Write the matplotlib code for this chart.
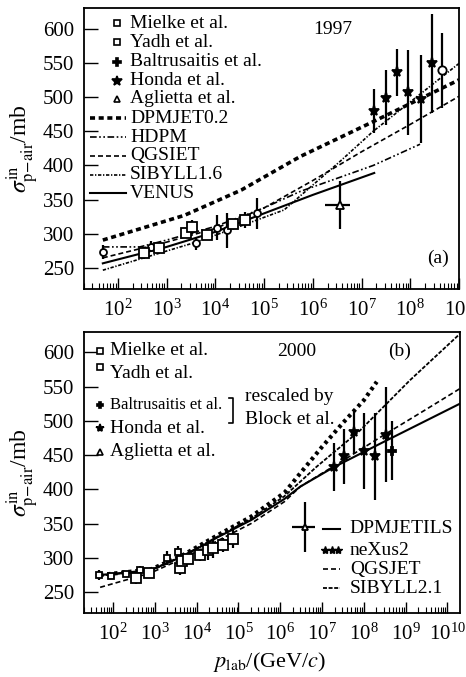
import numpy as np
import matplotlib.pyplot as plt
from matplotlib.ticker import LogLocator, NullFormatter

plt.rcParams['font.family'] = ['Liberation Serif', 'DejaVu Serif']
plt.rcParams['mathtext.fontset'] = 'stix'

# ---------------- panel (a), 1997 ----------------
# x values are log10(p_lab / GeV)
a_dpm_lgp = [1.69, 3.36, 4.53, 5.74, 7.24, 9.0]
a_dpm_sig = [291, 327, 364, 413, 464, 525]
a_hdpm_lgp = [1.69, 2.45, 3.0, 4.0, 5.0, 5.74, 7.24, 8.2]
a_hdpm_sig = [281, 281, 291, 311, 338, 362, 400, 431]
a_qgs_lgp = [1.69, 3.0, 4.0, 5.0, 6.0, 7.0, 8.0, 9.0]
a_qgs_sig = [265, 288, 308, 338, 378, 420, 460, 501]
a_sib_lgp = [1.69, 3.56, 4.5, 5.41, 6.56, 7.24, 9.0]
a_sib_sig = [247, 287, 311, 335, 406, 450, 549]
a_venus_lgp = [1.69, 3.0, 4.0, 5.0, 6.0, 7.26]
a_venus_sig = [257, 281, 303, 330, 357, 389]

a_mielke_lgp = [1.69, 2.67, 3.60, 4.03, 4.23, 4.85]
a_mielke_sig = [274, 281, 286, 309, 305, 330]
a_mielke_err = [10, 8, 10, 18, 25, 23]
a_yadh_lgp = [2.53, 2.85, 3.39, 3.53, 3.82, 4.37, 4.61]
a_yadh_sig = [272, 279, 302, 310, 298, 314, 320]
a_yadh_err = [9, 5, 5, 10, 5, 5, 12]
a_honda_lgp = [7.26, 7.50, 7.72, 7.95, 8.22, 8.45]
a_honda_sig = [479, 499, 536, 507, 497, 549]
a_honda_err = [32, 40, 34, 62, 64, 72]
a_balt_lgp = [8.65]
a_balt_sig = [539]
a_balt_err = [55]
a_agl_lgp = [6.56]
a_agl_sig = [342]
a_agl_err = [35]
a_agl_xlo = [6.25]
a_agl_xhi = [6.77]

# ---------------- panel (b), 2000 ----------------
b_dpm_lgp = [1.69, 2.9, 3.7, 4.5, 5.3, 6.1, 6.48, 7.27, 8.5, 10.3]
b_dpm_sig = [275, 282, 303, 330, 355, 386, 404, 432, 470, 525]
b_nex_lgp = [1.69, 2.9, 3.7, 4.5, 5.3, 6.1, 6.5, 7.0, 7.5, 8.0, 8.31]
b_nex_sig = [275, 283, 305, 333, 360, 395, 425, 462, 497, 530, 557]
b_qgs_lgp = [1.69, 2.9, 3.7, 4.5, 5.3, 6.1, 6.48, 7.5, 8.5, 9.5, 10.3]
b_qgs_sig = [257, 278, 300, 325, 350, 382, 404, 442, 480, 517, 547]
b_sib_lgp = [1.69, 2.9, 3.7, 4.5, 5.3, 6.1, 6.87, 7.91, 9.1, 10.3]
b_sib_sig = [274, 282, 304, 331, 357, 390, 433, 486, 559, 627]

b_mielke_lgp = [1.66, 1.95, 2.3, 2.65, 3.3, 3.55]
b_mielke_sig = [275, 273, 276, 282, 300, 308]
b_mielke_err = [8, 4, 4, 6, 10, 10]
b_yadh_lgp = [2.54, 2.86, 3.60, 3.64, 3.80, 4.08, 4.26, 4.40, 4.62, 4.88]
b_yadh_sig = [270, 278, 285, 296, 299, 304, 311, 314, 319, 328]
b_yadh_err = [8, 5, 10, 5, 5, 8, 14, 14, 10, 14]
b_honda_lgp = [7.29, 7.53, 7.77, 8.01, 8.27, 8.53]
b_honda_sig = [432, 448, 484, 456, 448, 480]
b_honda_err = [35, 40, 33, 56, 64, 70]
b_balt_lgp = [8.68]
b_balt_sig = [456]
b_balt_err = [43]
b_agl_lgp = [6.59]
b_agl_sig = [345]
b_agl_err = [36]
b_agl_xlo = [6.28]
b_agl_xhi = [6.83]

yticks = [250, 300, 350, 400, 450, 500, 550, 600]

ls_dpm_a = dict(lw=2.6, dashes=(1.4, 1.0))
ls_hdpm = dict(lw=1.2, dashes=(4, 1.5, 1, 1.5, 1, 1.5))
ls_qgs = dict(lw=1.2, dashes=(3, 1.8))
ls_sib_a = dict(lw=1.2, dashes=(2, 1, 0.8, 1))
ls_solid = dict(lw=1.5, linestyle='-')
ls_nex = dict(lw=3.0, dashes=(0.8, 0.9))
ls_sib_b = dict(lw=1.3, dashes=(2.2, 0.9))


def p(lgp):
    return 10 ** np.array(lgp, dtype=float)


def style_axis(ax, xmax):
    ax.set_xscale('log')
    ax.set_xlim(20, xmax)
    ax.set_ylim(220, 630)
    ax.set_yticks(yticks)
    ax.xaxis.set_major_locator(LogLocator(base=10, numticks=20))
    ax.xaxis.set_minor_locator(LogLocator(base=10, subs=np.arange(2, 10), numticks=20))
    ax.xaxis.set_minor_formatter(NullFormatter())
    ax.tick_params(which='both', direction='in', top=False, right=False)
    ax.tick_params(axis='y', length=10, width=1, labelsize=15, pad=7)
    ax.tick_params(axis='x', which='major', length=8, width=1, labelsize=15, pad=8)
    ax.tick_params(axis='x', which='minor', length=4, width=0.8)
    for s in ax.spines.values():
        s.set_linewidth(1.3)
    ax.set_ylabel(r'$\sigma^{\mathrm{in}}_{\mathrm{p}\!-\!\mathrm{air}}$/mb', fontsize=17)
    ax.yaxis.set_label_coords(-0.115, 0.5)


def data_points(ax, lgp, sig, err, marker, ms, filled=False, xerr=None):
    ax.errorbar(p(lgp), sig, yerr=err, xerr=xerr, fmt=marker, ms=ms,
                mfc='k' if filled else 'white', mec='k', mew=1.3,
                ecolor='k', elinewidth=1.6, capsize=0, zorder=5)


def key_line(ax, y, style, label, x0, x1, xt, fs=14):
    ax.plot([x0, x1], [y, y], transform=ax.transAxes, color='k', clip_on=False, **style)
    ax.text(xt, y, label, transform=ax.transAxes, va='center', ha='left', fontsize=fs)


def key_mark(ax, y, marker, ms, filled, label, xm, xt, fs=14, ym=None):
    ax.plot([xm], [y if ym is None else ym], marker=marker, ms=ms, mfc='k' if filled else 'white',
            mec='k', mew=1.2, transform=ax.transAxes, linestyle='none')
    ax.text(xt, y, label, transform=ax.transAxes, va='center', ha='left', fontsize=fs)


fig = plt.figure(figsize=(4.66, 6.77), dpi=100)

# ---- (a) ----
ax1 = fig.add_axes([0.180, 0.5736, 0.805, 0.4146])
style_axis(ax1, 1e9)
ax1.plot(p(a_dpm_lgp), a_dpm_sig, color='k', **ls_dpm_a)
ax1.plot(p(a_hdpm_lgp), a_hdpm_sig, color='k', **ls_hdpm)
ax1.plot(p(a_qgs_lgp), a_qgs_sig, color='k', **ls_qgs)
ax1.plot(p(a_sib_lgp), a_sib_sig, color='k', **ls_sib_a)
ax1.plot(p(a_venus_lgp), a_venus_sig, color='k', **ls_solid)

data_points(ax1, a_mielke_lgp, a_mielke_sig, a_mielke_err, 'o', 5)
data_points(ax1, a_yadh_lgp, a_yadh_sig, a_yadh_err, 's', 6.5)
data_points(ax1, a_honda_lgp, a_honda_sig, a_honda_err, '*', 8, filled=True)
data_points(ax1, a_balt_lgp, a_balt_sig, a_balt_err, 'o', 6)
xerr_a = [p(a_agl_lgp) - p(a_agl_xlo), p(a_agl_xhi) - p(a_agl_lgp)]
data_points(ax1, a_agl_lgp, a_agl_sig, a_agl_err, '^', 6, xerr=xerr_a)

xm, xt = 0.087, 0.123
key_mark(ax1, 0.945, 's', 4, False, 'Mielke et al.', xm, xt)
key_mark(ax1, 0.878, 's', 5, False, 'Yadh et al.', xm, xt)
key_mark(ax1, 0.809, 'P', 6, True, 'Baltrusaitis et al.', xm, xt)
key_mark(ax1, 0.741, '*', 7, True, 'Honda et al.', xm, xt)
key_mark(ax1, 0.676, '^', 4.5, False, 'Aglietta et al.', xm, xt)
key_line(ax1, 0.607, ls_dpm_a, 'DPMJET0.2', 0.016, 0.112, xt)
key_line(ax1, 0.540, ls_hdpm, 'HDPM', 0.016, 0.112, xt)
key_line(ax1, 0.474, ls_qgs, 'QGSIET', 0.016, 0.112, xt)
key_line(ax1, 0.405, ls_sib_a, 'SIBYLL1.6', 0.016, 0.112, xt)
key_line(ax1, 0.340, ls_solid, 'VENUS', 0.016, 0.112, xt)
ax1.text(0.664, 0.922, '1997', transform=ax1.transAxes, ha='center', va='center', fontsize=14)
ax1.text(0.944, 0.109, '(a)', transform=ax1.transAxes, ha='center', va='center', fontsize=14)

# ---- (b) ----
ax2 = fig.add_axes([0.180, 0.095, 0.807, 0.415])
style_axis(ax2, 10 ** 10.3)
ax2.plot(p(b_dpm_lgp), b_dpm_sig, color='k', **ls_solid)
ax2.plot(p(b_nex_lgp), b_nex_sig, color='k', **ls_nex)
ax2.plot(p(b_qgs_lgp), b_qgs_sig, color='k', **ls_qgs)
ax2.plot(p(b_sib_lgp), b_sib_sig, color='k', **ls_sib_b)

data_points(ax2, b_mielke_lgp, b_mielke_sig, b_mielke_err, 's', 4)
data_points(ax2, b_yadh_lgp, b_yadh_sig, b_yadh_err, 's', 6.5)
data_points(ax2, b_honda_lgp, b_honda_sig, b_honda_err, '*', 8, filled=True)
data_points(ax2, b_balt_lgp, b_balt_sig, b_balt_err, 'P', 6, filled=True)
xerr_b = [p(b_agl_lgp) - p(b_agl_xlo), p(b_agl_xhi) - p(b_agl_lgp)]
data_points(ax2, b_agl_lgp, b_agl_sig, b_agl_err, '^', 5, xerr=xerr_b)

xm, xt = 0.043, 0.069
key_mark(ax2, 0.932, 's', 4, False, 'Mielke et al.', xm, xt)
key_mark(ax2, 0.852, 's', 5, False, 'Yadh et al.', xm, xt, ym=0.874)
key_mark(ax2, 0.739, 'P', 5, True, 'Baltrusaitis et al.', xm, xt, fs=12)
key_mark(ax2, 0.656, '*', 6, True, 'Honda et al.', xm, xt)
key_mark(ax2, 0.573, '^', 4, False, 'Aglietta et al.', xm, xt)
ax2.plot([0.385, 0.396, 0.396, 0.385], [0.764, 0.764, 0.675, 0.675],
         transform=ax2.transAxes, color='k', lw=1.2)
ax2.text(0.428, 0.769, 'rescaled by', transform=ax2.transAxes, va='center', ha='left', fontsize=14)
ax2.text(0.428, 0.688, 'Block et al.', transform=ax2.transAxes, va='center', ha='left', fontsize=14)

x0, x1, xt = 0.636, 0.681, 0.707
key_line(ax2, 0.298, ls_solid, 'DPMJETILS', x0, x1, xt)
ax2.plot([0.641, 0.659, 0.677], [0.223] * 3, transform=ax2.transAxes, linestyle='none',
         marker='*', ms=6, color='k')
ax2.text(xt, 0.223, 'neXus2', transform=ax2.transAxes, va='center', ha='left', fontsize=14)
key_line(ax2, 0.154, ls_qgs, 'QGSJET', x0, x1, xt)
key_line(ax2, 0.087, ls_sib_b, 'SIBYLL2.1', x0, x1, xt)

ax2.text(0.566, 0.931, '2000', transform=ax2.transAxes, ha='center', va='center', fontsize=14)
ax2.text(0.84, 0.931, '(b)', transform=ax2.transAxes, ha='center', va='center', fontsize=14)
ax2.set_xlabel(r'$p_{\mathrm{lab}}$/(GeV/$c$)', fontsize=16)
ax2.xaxis.set_label_coords(0.495, -0.133)

fig.savefig('out.png', dpi=100)
